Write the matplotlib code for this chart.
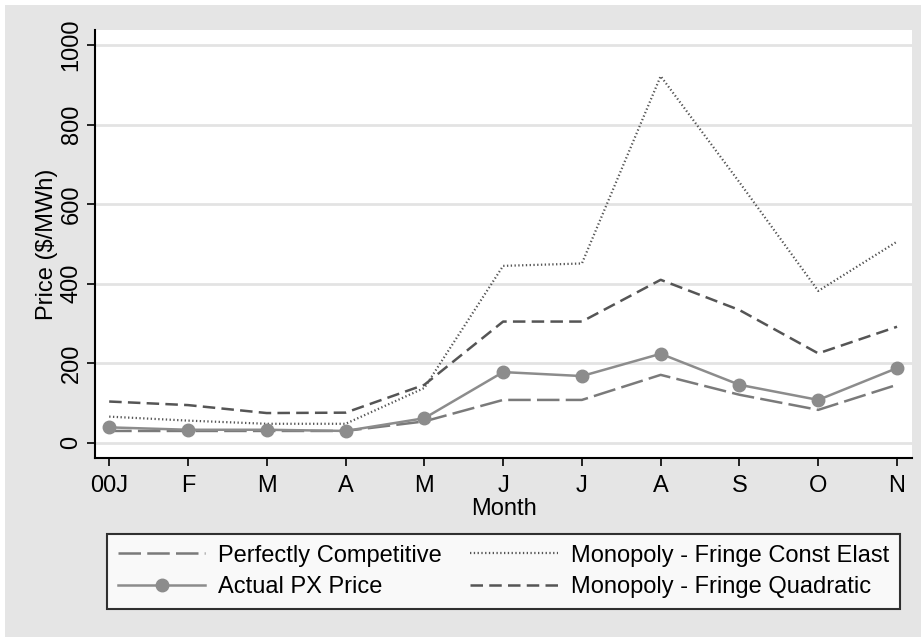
import matplotlib
matplotlib.use("Agg")
import matplotlib.pyplot as plt
from matplotlib.patches import Rectangle

plt.rcParams['font.family'] = ['Liberation Sans', 'DejaVu Sans']

months = ["00J", "F", "M", "A", "M", "J", "J", "A", "S", "O", "N"]
perfectly_competitive = [30, 30, 30, 30, 54, 108, 108, 171, 121, 83, 146]
actual_px = [39, 33, 33, 30, 62, 178, 168, 224, 146, 108, 188]
const_elast = [66, 56, 48, 48, 138, 445, 451, 922, 655, 382, 506]
quadratic = [104, 95, 75, 76, 146, 305, 305, 410, 334, 225, 292]
yticks = [0, 200, 400, 600, 800, 1000]

W, H = 921, 637
FS = 17
fig = plt.figure(figsize=(W / 100, H / 100), dpi=100, facecolor="white")
fig.patches.append(Rectangle((5 / W, 0), 1, 1 - 5 / H, transform=fig.transFigure,
                             facecolor="#e5e5e5", edgecolor="none", zorder=-10))

ax = fig.add_axes([95 / W, 1 - 458 / H, (912 - 95) / W, (458 - 30) / H])
ax.set_facecolor("white")
x = list(range(len(months)))

ax.plot(x, perfectly_competitive, color="#7a7a7a", lw=1.8, dashes=(9, 2.5),
        label="Perfectly Competitive")
ax.plot(x, const_elast, color="#555555", lw=1.6, linestyle=(0, (0.6, 1.1)),
        label="Monopoly - Fringe Const Elast")
ax.plot(x, actual_px, color="#8c8c8c", lw=1.8, marker="o", markersize=9,
        markerfacecolor="#8c8c8c", markeredgecolor="#8c8c8c", label="Actual PX Price")
ax.plot(x, quadratic, color="#555555", lw=1.8, dashes=(5, 2.5),
        label="Monopoly - Fringe Quadratic")

ax.set_xlim(-0.18, 10.19)
ax.set_ylim(-38, 1038)
ax.set_yticks(yticks)
ax.set_yticklabels([str(v) for v in yticks], rotation=90, va="center")
ax.set_xticks(x)
ax.set_xticklabels(months)
ax.grid(axis="y", color="#e3e3e3", lw=2)
ax.set_axisbelow(True)
for s in ["top", "right"]:
    ax.spines[s].set_visible(False)
for s in ["left", "bottom"]:
    ax.spines[s].set_linewidth(1.5)
    ax.spines[s].set_color("black")
ax.tick_params(axis="y", labelsize=FS, length=6, width=1.2, color="black", pad=3)
ax.tick_params(axis="x", labelsize=FS, length=6, width=1.2, color="black", pad=6)
ax.set_ylabel("Price ($/MWh)", fontsize=FS, labelpad=2)
ax.set_xlabel("Month", fontsize=FS, labelpad=1)

h, l = ax.get_legend_handles_labels()
order = [0, 2, 1, 3]
leg = fig.legend([h[i] for i in order], [l[i] for i in order], ncol=2,
                 loc="center", bbox_to_anchor=(503.5 / W, 1 - 571.5 / H),
                 fontsize=FS, frameon=True, fancybox=False, edgecolor="black",
                 handlelength=3.7, handletextpad=0.55, columnspacing=1.2,
                 borderpad=0.45, labelspacing=0.42)
leg.get_frame().set_linewidth(1.5)
leg.get_frame().set_facecolor("white")

fig.savefig("out.png", dpi=100, facecolor=fig.get_facecolor())
